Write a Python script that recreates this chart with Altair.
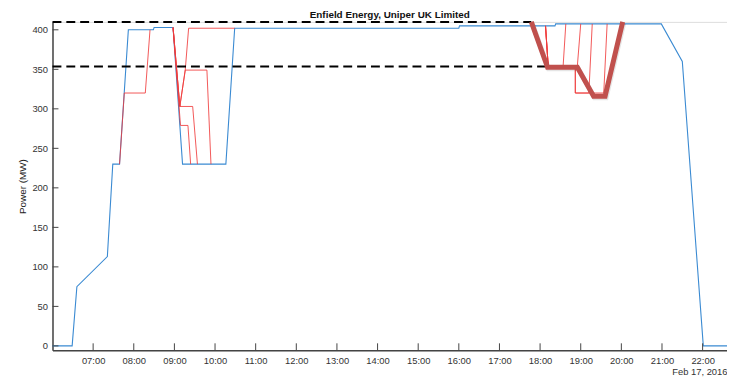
import altair as alt
import pandas as pd

# ---- data (times as HH:MM, values in MW) ----
blue_t = ["06:00", "06:29", "06:36", "07:21", "07:29", "07:39", "07:52", "08:29", "08:30", "08:58",
          "09:12", "10:16", "10:29", "16:00", "16:01", "18:22", "18:23", "20:59", "21:30", "22:01", "22:36"]
blue_v = [0, 0, 75, 113, 230, 230, 400, 400, 403, 403,
          230, 230, 402, 402, 405, 405, 407.5, 407.5, 360, 0, 0]

red_series = {
    "r1": (["07:39", "07:46", "08:17", "08:24"], [230, 320, 320, 400]),
    "r2": (["08:58", "09:08", "09:16", "09:21", "10:29"], [403, 303, 349, 402, 402]),
    "r3": (["08:58", "09:08", "09:16", "09:48", "09:54"], [403, 303, 349, 349, 230]),
    "r4": (["08:58", "09:08", "09:27", "09:34"], [403, 303, 303, 230]),
    "r5": (["08:58", "09:09", "09:20", "09:24"], [403, 279, 279, 230]),
    "r6": (["18:08", "18:12", "18:34", "18:38"], [405, 354, 354, 407.5]),
    "r7": (["18:08", "18:12", "18:55", "19:00"], [405, 354, 354, 407.5]),
    "r8": (["18:08", "18:12", "18:52", "18:52", "19:12", "19:17"], [405, 354, 354, 320, 320, 407.5]),
    "r9": (["18:08", "18:12", "18:52", "18:52", "19:34", "19:39"], [405, 354, 354, 320, 320, 407.5]),
}

thick_t = ["17:47", "18:11", "18:55", "19:19", "19:36", "20:02"]
thick_v = [410, 352.5, 352.5, 316, 316, 410]

dash_v = [410, 353.5]
dash_end = ["17:47", "18:11"]

y_ticks = [0, 50, 100, 150, 200, 250, 300, 350, 400]
x_ticks = list(range(7, 23))


def hrs(s):
    h, m = s.split(":")
    return int(h) + int(m) / 60.0


blue_df = pd.DataFrame({"h": [hrs(t) for t in blue_t], "v": blue_v, "i": range(len(blue_t))})
rows = []
for name, (ts, vs) in red_series.items():
    for i, (t, v) in enumerate(zip(ts, vs)):
        rows.append({"s": name, "h": hrs(t), "v": v, "i": i})
red_df = pd.DataFrame(rows)
thick_df = pd.DataFrame({"h": [hrs(t) for t in thick_t], "v": thick_v, "i": range(len(thick_t))})
dash_df = pd.DataFrame({"h0": [6.0, 6.0], "h1": [hrs(t) for t in dash_end], "v": dash_v})
yt_df = pd.DataFrame({"v": y_ticks})
xt_df = pd.DataFrame({"h": x_ticks})

W, H = 682, 332
FONT = "Liberation Sans"

xscale = alt.Scale(domain=[6.0, 22.6], nice=False, zero=False)
yscale = alt.Scale(domain=[-5.5, 410], nice=False, zero=False)

xaxis = alt.Axis(values=x_ticks, labelExpr="(datum.value < 10 ? '0' : '') + datum.value + ':00'",
                 ticks=False, grid=False, domainColor="#444", domainWidth=1.5,
                 labelFontSize=9.5, labelColor="#333", labelPadding=5, labelFont=FONT,
                 title="Feb 17, 2016", titleAnchor="end", titleFontWeight="normal",
                 titleFontSize=9.5, titleColor="#333", titlePadding=2, titleFont=FONT)
yaxis = alt.Axis(values=y_ticks, ticks=False, grid=False, domainColor="#444", domainWidth=1.5,
                 labelFontSize=9.5, labelColor="#333", labelPadding=5, labelFont=FONT,
                 title="Power (MW)", titleFontWeight="normal", titleFontSize=10,
                 titleColor="#222", titlePadding=4, titleFont=FONT)

blue = alt.Chart(blue_df).mark_line(color="#3a8ad2", strokeWidth=1.1).encode(
    x=alt.X("h:Q", scale=xscale, axis=xaxis),
    y=alt.Y("v:Q", scale=yscale, axis=yaxis),
    order="i:Q",
)

red = alt.Chart(red_df).mark_line(color="#f03a3a", strokeWidth=1, opacity=0.85).encode(
    x=alt.X("h:Q", scale=xscale),
    y=alt.Y("v:Q", scale=yscale),
    detail="s:N",
    order="i:Q",
)

dashes = alt.Chart(dash_df).mark_rule(color="black", strokeWidth=2, strokeDash=[9, 5]).encode(
    x=alt.X("h0:Q", scale=xscale),
    x2="h1:Q",
    y=alt.Y("v:Q", scale=yscale),
)

shadow = alt.Chart(thick_df).mark_line(color="#000000", opacity=0.1, strokeWidth=5,
                                       xOffset=1, yOffset=1.5, strokeJoin="miter").encode(
    x=alt.X("h:Q", scale=xscale),
    y=alt.Y("v:Q", scale=yscale),
    order="i:Q",
)

thick = alt.Chart(thick_df).mark_line(color="#c0504d", strokeWidth=5, strokeJoin="miter").encode(
    x=alt.X("h:Q", scale=xscale),
    y=alt.Y("v:Q", scale=yscale),
    order="i:Q",
)

ytick = alt.Chart(yt_df).mark_rule(color="#444", strokeWidth=1).encode(
    y=alt.Y("v:Q", scale=yscale),
    x=alt.value(0),
    x2=alt.value(6),
)

xtick = alt.Chart(xt_df).mark_rule(color="#444", strokeWidth=1).encode(
    x=alt.X("h:Q", scale=xscale),
    y=alt.value(H),
    y2=alt.value(H - 7),
)

chart = alt.layer(blue, red, dashes, shadow, thick, ytick, xtick).properties(
    width=W,
    height=H,
    title=alt.TitleParams("Enfield Energy, Uniper UK Limited", fontSize=10, fontWeight="bold",
                          font=FONT, color="#111", anchor="middle", offset=0, dy=8),
    autosize=alt.AutoSizeParams(type="none"),
    padding={"left": 45, "top": 12, "right": 0, "bottom": 26},
).configure_view(stroke=None).configure(background="white")

chart.save("out.html", embed_options={"renderer": "svg", "actions": False})
